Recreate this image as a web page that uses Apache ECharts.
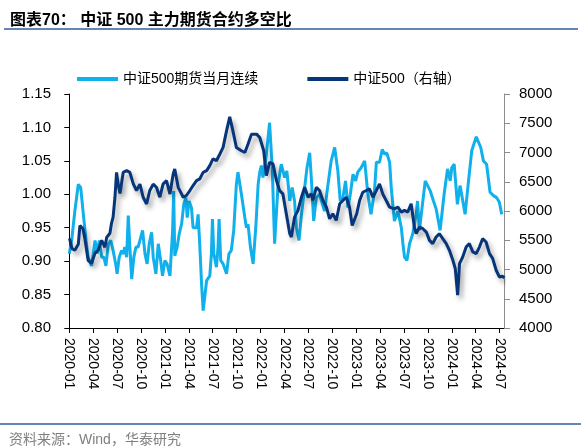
<!DOCTYPE html>
<html>
<head>
<meta charset="utf-8">
<script src="https://cdn.jsdelivr.net/npm/echarts@6/dist/echarts.min.js"></script>
<style>
html,body{margin:0;padding:0;background:#fff;}
#chart{width:581px;height:448px;}
</style>
</head>
<body>
<div id="chart"></div>
<script>
const xTickLabels = ['2020-01','2020-04','2020-07','2020-10','2021-01','2021-04','2021-07','2021-10','2022-01','2022-04','2022-07','2022-10','2023-01','2023-04','2023-07','2023-10','2024-01','2024-04','2024-07'];

const lightDates = ['2020-01-01','2020-01-10','2020-01-22','2020-02-05','2020-02-14','2020-02-24','2020-03-04','2020-03-12','2020-03-25','2020-04-08','2020-04-16','2020-04-24','2020-05-03','2020-05-11','2020-05-19','2020-05-28','2020-06-07','2020-06-16','2020-06-27','2020-07-01','2020-07-09','2020-07-18','2020-07-24','2020-07-30','2020-08-07','2020-08-13','2020-08-19','2020-08-26','2020-09-04','2020-09-12','2020-09-20','2020-09-27','2020-10-07','2020-10-16','2020-10-24','2020-11-02','2020-11-11','2020-11-17','2020-11-27','2020-12-06','2020-12-15','2020-12-22','2020-12-31','2021-01-09','2021-01-20','2021-01-30','2021-02-04','2021-02-08','2021-02-17','2021-02-25','2021-03-04','2021-03-12','2021-03-20','2021-03-25','2021-04-02','2021-04-11','2021-04-17','2021-04-30','2021-05-06','2021-05-12','2021-05-19','2021-05-25','2021-06-08','2021-06-20','2021-06-26','2021-06-30','2021-07-05','2021-07-15','2021-07-21','2021-07-25','2021-08-01','2021-08-10','2021-08-23','2021-09-02','2021-09-11','2021-09-20','2021-09-30','2021-10-06','2021-10-19','2021-11-02','2021-11-08','2021-11-14','2021-11-23','2021-12-03','2021-12-13','2021-12-22','2021-12-28','2022-01-04','2022-01-10','2022-01-23','2022-02-05','2022-02-15','2022-02-24','2022-03-07','2022-03-19','2022-04-02','2022-04-10','2022-04-21','2022-04-30','2022-05-09','2022-05-16','2022-05-26','2022-06-05','2022-06-17','2022-06-26','2022-07-06','2022-07-12','2022-07-21','2022-08-01','2022-08-13','2022-08-24','2022-09-02','2022-09-15','2022-09-27','2022-10-10','2022-10-22','2022-11-01','2022-11-11','2022-11-21','2022-11-30','2022-12-09','2022-12-19','2022-12-29','2023-01-07','2023-01-20','2023-02-03','2023-02-15','2023-02-27','2023-03-10','2023-03-17','2023-03-29','2023-04-09','2023-04-18','2023-04-26','2023-05-07','2023-05-13','2023-05-25','2023-06-08','2023-06-21','2023-06-27','2023-07-03','2023-07-12','2023-07-22','2023-08-04','2023-08-17','2023-08-22','2023-08-29','2023-09-21','2023-10-10','2023-10-22','2023-11-02','2023-11-17','2023-11-23','2023-12-02','2023-12-15','2023-12-25','2023-12-31','2024-01-10','2024-01-22','2024-02-02','2024-02-08','2024-02-21','2024-03-04','2024-03-16','2024-04-03','2024-04-20','2024-04-30','2024-05-12','2024-05-25','2024-06-08','2024-06-20','2024-06-30','2024-07-09'];
const lightValues = [0.911,0.931,0.975,1.015,1.010,0.970,0.931,0.906,0.893,0.931,0.911,0.931,0.906,0.906,0.893,0.926,0.931,0.916,0.893,0.881,0.906,0.916,0.911,0.921,0.906,0.968,0.921,0.873,0.906,0.921,0.921,0.931,0.946,0.911,0.896,0.926,0.943,0.906,0.881,0.926,0.901,0.878,0.901,0.896,0.878,0.946,1.005,0.908,0.921,0.941,0.956,0.985,0.995,0.965,0.990,0.980,0.950,0.950,0.970,0.926,0.866,0.826,0.871,0.878,0.911,0.963,0.911,0.891,0.921,0.963,0.901,0.896,0.881,0.911,0.916,0.946,1.015,1.033,1.000,0.965,0.950,0.955,0.921,0.896,0.950,1.015,1.033,1.043,1.025,1.060,1.107,1.040,0.926,1.015,1.045,1.025,1.035,0.990,1.010,0.990,0.950,0.931,0.970,1.010,1.040,1.062,1.025,0.960,0.995,1.000,0.985,0.975,1.015,1.050,1.070,1.035,0.990,0.995,1.020,0.980,1.000,1.030,1.020,1.033,1.040,1.050,1.000,0.970,1.005,1.048,1.048,1.067,1.060,1.062,1.048,1.010,0.960,0.975,0.950,0.926,0.906,0.901,0.926,0.941,0.970,0.990,0.946,1.020,1.005,0.990,0.978,0.946,0.946,1.000,1.038,1.020,1.040,1.045,0.985,1.013,1.000,0.970,1.020,1.065,1.086,1.070,1.050,1.045,1.003,0.998,0.995,0.988,0.970];

const indexDates = ['2020-01-02','2020-01-11','2020-01-22','2020-02-05','2020-02-11','2020-02-22','2020-02-29','2020-03-12','2020-03-25','2020-04-08','2020-04-20','2020-05-03','2020-05-15','2020-05-22','2020-06-04','2020-06-10','2020-06-16','2020-06-23','2020-06-29','2020-07-06','2020-07-12','2020-07-24','2020-08-07','2020-08-19','2020-09-02','2020-09-14','2020-09-27','2020-10-09','2020-10-22','2020-11-04','2020-11-17','2020-11-29','2020-12-12','2020-12-24','2021-01-07','2021-01-20','2021-02-02','2021-02-08','2021-02-21','2021-03-10','2021-03-22','2021-04-05','2021-04-17','2021-04-30','2021-05-12','2021-05-25','2021-06-08','2021-06-20','2021-07-02','2021-07-15','2021-07-28','2021-08-10','2021-08-23','2021-09-05','2021-09-17','2021-09-30','2021-10-19','2021-11-02','2021-11-14','2021-11-27','2021-12-16','2021-12-28','2022-01-13','2022-01-23','2022-02-05','2022-02-18','2022-03-01','2022-03-13','2022-03-25','2022-04-08','2022-04-21','2022-04-27','2022-05-09','2022-05-22','2022-06-05','2022-06-17','2022-06-30','2022-07-12','2022-07-18','2022-08-01','2022-08-13','2022-08-26','2022-09-09','2022-09-21','2022-10-03','2022-10-16','2022-10-29','2022-11-11','2022-11-24','2022-12-06','2022-12-16','2023-01-03','2023-01-14','2023-01-26','2023-02-09','2023-02-21','2023-03-04','2023-03-17','2023-03-29','2023-04-11','2023-04-24','2023-05-07','2023-05-25','2023-06-08','2023-06-21','2023-07-03','2023-07-15','2023-07-28','2023-08-10','2023-08-17','2023-08-29','2023-09-12','2023-09-25','2023-10-07','2023-10-19','2023-11-02','2023-11-14','2023-11-27','2023-12-10','2023-12-22','2024-01-05','2024-01-14','2024-01-23','2024-01-30','2024-02-12','2024-02-25','2024-03-07','2024-03-20','2024-04-03','2024-04-15','2024-04-27','2024-05-10','2024-05-23','2024-06-05','2024-06-18','2024-06-30','2024-07-11','2024-07-19'];
const indexValues = [5530,5360,5330,5430,5750,5700,5550,5158,5106,5280,5330,5500,5380,5550,5620,5790,5895,6235,6660,6430,6300,6660,6690,6660,6463,6350,6460,6235,6120,6350,6460,6405,6235,6460,6520,6290,6630,6718,6405,6235,6265,6350,6435,6520,6548,6660,6690,6775,6890,6860,6974,7087,7370,7609,7370,7087,7030,7000,7144,7314,7314,7256,7030,6604,6830,6804,6519,6349,6293,5953,5612,5555,5895,6010,6235,6405,6235,6293,6180,6405,6350,6180,6065,5867,5953,5840,6123,6180,6235,6065,5753,5953,6180,6320,6350,6378,6235,6350,6463,6293,6179,6065,6037,6065,5980,6010,5980,6123,5725,5612,5725,5697,5640,5498,5442,5555,5612,5527,5442,5328,5158,5016,4562,5101,5214,5384,5442,5300,5272,5384,5527,5470,5272,5187,4987,4873,4885,4856];

const leftTicks = [0.80, 0.85, 0.90, 0.95, 1.00, 1.05, 1.10, 1.15];
const rightTicks = [4000, 4500, 5000, 5500, 6000, 6500, 7000, 7500, 8000];

function monthIndex(s) {
  const p = s.split('-').map(Number);
  const d = p.length > 2 ? p[2] : 1;
  return (p[0] - 2020) * 12 + (p[1] - 1) + (d - 1) / 30;
}
function labelOf(v) {
  const m = Math.round(v);
  const y = 2020 + Math.floor(m / 12);
  const mo = (m % 12) + 1;
  return y + '-' + (mo < 10 ? '0' + mo : mo);
}

const tickVals = xTickLabels.map(monthIndex);
const lightData = lightDates.map((d, i) => [monthIndex(d), lightValues[i]]);
const indexData = indexDates.map((d, i) => [monthIndex(d), indexValues[i]]);

const LAT = '"Liberation Sans", Arial, "Noto Sans CJK SC", sans-serif';
const chart = echarts.init(document.getElementById('chart'));
chart.setOption({
  backgroundColor: '#ffffff',
  animation: false,
  title: [
    { text: '图表70： 中证 500 主力期货合约多空比', left: 5, top: 8,
      textStyle: { fontSize: 16, fontWeight: 'bold', color: '#000', fontFamily: '"Liberation Sans", "Noto Sans CJK SC", sans-serif' } },
    { text: '资料来源：Wind，华泰研究', left: 4, top: 428,
      textStyle: { fontSize: 14, fontWeight: 'normal', color: '#7f7f7f', fontFamily: LAT } }
  ],
  graphic: [
    { type: 'rect', shape: { x: 4, y: 28, width: 574, height: 2 }, style: { fill: '#6585b3' } },
    { type: 'rect', shape: { x: 0, y: 423, width: 581, height: 2 }, style: { fill: '#6585b3' } }
  ],
  legend: {
    left: 72, top: 67, itemWidth: 41, itemHeight: 4, itemGap: 49,
    textStyle: { fontSize: 14, color: '#000', fontFamily: LAT },
    data: [
      { name: '中证500期货当月连续', icon: 'rect' },
      { name: '中证500（右轴）', icon: 'rect' }
    ]
  },
  grid: { left: 68, right: 77, top: 94, bottom: 120 },
  xAxis: {
    type: 'value', min: -0.16, max: 54.55,
    axisLine: { show: true, onZero: false, lineStyle: { color: '#000', width: 1 } },
    axisTick: { show: true, length: 5, inside: false, customValues: tickVals, lineStyle: { color: '#000' } },
    axisLabel: { customValues: tickVals, rotate: -90, margin: 10, fontSize: 14, color: '#000', fontFamily: LAT, formatter: labelOf },
    splitLine: { show: false }
  },
  yAxis: [
    { type: 'value', min: leftTicks[0], max: leftTicks[leftTicks.length - 1], interval: 0.05,
      axisLine: { show: true, lineStyle: { color: '#000' } },
      axisTick: { show: true, length: 5, lineStyle: { color: '#000' } },
      axisLabel: { margin: 17, fontSize: 15, color: '#000', fontFamily: LAT, formatter: v => v.toFixed(2) },
      splitLine: { show: false } },
    { type: 'value', min: rightTicks[0], max: rightTicks[rightTicks.length - 1], interval: 500,
      axisLine: { show: true, lineStyle: { color: '#8c8c8c' } },
      axisTick: { show: true, length: 6, lineStyle: { color: '#8c8c8c' } },
      axisLabel: { margin: 15, fontSize: 15, color: '#000', fontFamily: LAT, formatter: v => String(v) },
      splitLine: { show: false } }
  ],
  series: [
    { name: '中证500期货当月连续', type: 'line', yAxisIndex: 0, data: lightData, showSymbol: false, symbol: 'none',
      itemStyle: { color: '#0fb0ec' },
      lineStyle: { color: '#0fb0ec', width: 3 } },
    { name: '中证500（右轴）', type: 'line', yAxisIndex: 1, data: indexData, showSymbol: false, symbol: 'none',
      itemStyle: { color: '#06357a' },
      lineStyle: { color: '#06357a', width: 3, shadowColor: 'rgba(0,0,0,0.35)', shadowBlur: 5, shadowOffsetX: 3, shadowOffsetY: 4 } }
  ]
});
</script>
</body>
</html>
